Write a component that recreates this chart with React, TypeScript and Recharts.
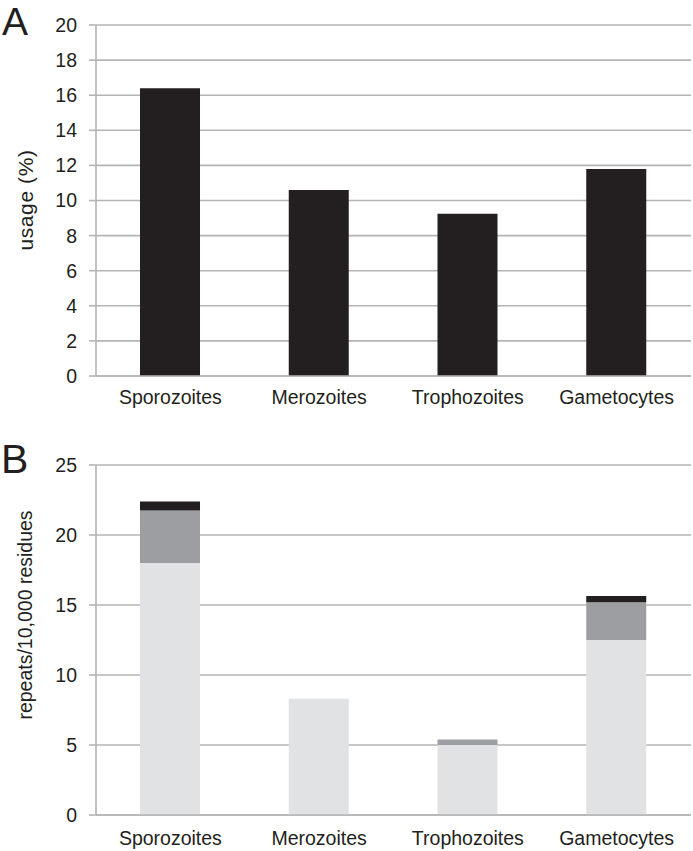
import React from 'react';
import { BarChart, Bar, XAxis, YAxis, CartesianGrid } from 'recharts';

const stages = ['Sporozoites', 'Merozoites', 'Trophozoites', 'Gametocytes'];
const usagePct = [16.4, 10.6, 9.25, 11.8];
const repeatsLight = [18.0, 8.3, 5.0, 12.5];
const repeatsGray = [3.75, 0, 0.4, 2.7];
const repeatsBlack = [0.65, 0, 0, 0.45];
const ticksA = [0, 2, 4, 6, 8, 10, 12, 14, 16, 18, 20];
const ticksB = [0, 5, 10, 15, 20, 25];

const dataA = stages.map((s, i) => ({ stage: s, usage: usagePct[i] }));
const dataB = stages.map((s, i) => ({
  stage: s,
  light: repeatsLight[i],
  gray: repeatsGray[i],
  black: repeatsBlack[i],
}));

const FONT = '"Liberation Sans", Arial, Helvetica, sans-serif';
const GRID = '#b4b4b4';
const tickStyle = { fontSize: 19.5, fill: '#231f20', fontFamily: FONT };

export default function App() {
  return (
    <div style={{ position: 'absolute', left: 0, top: 0, width: 693, height: 851, background: '#fff', fontFamily: FONT }}>
      <div style={{ position: 'absolute', left: 0, top: 0 }}>
        <BarChart width={693} height={420} data={dataA} margin={{ top: 25, right: 2, left: 0, bottom: 14 }}>
          <CartesianGrid vertical={false} stroke={GRID} strokeWidth={1.6} />
          <XAxis
            dataKey="stage"
            height={30}
            tickLine={false}
            axisLine={{ stroke: GRID, strokeWidth: 1.6 }}
            tickSize={7}
            tickMargin={7}
            tick={tickStyle}
            interval={0}
          />
          <YAxis
            width={96}
            domain={[0, 20]}
            ticks={ticksA}
            interval={0}
            tickSize={7}
            tickMargin={12}
            tick={tickStyle}
            tickLine={{ stroke: GRID, strokeWidth: 1.6 }}
            axisLine={{ stroke: GRID, strokeWidth: 1.6 }}
          />
          <Bar dataKey="usage" fill="#231f20" barSize={60} isAnimationActive={false} />
        </BarChart>
      </div>
      <div style={{ position: 'absolute', left: 0, top: 430 }}>
        <BarChart width={693} height={421} data={dataB} margin={{ top: 35, right: 2, left: 0, bottom: 6 }}>
          <CartesianGrid vertical={false} stroke={GRID} strokeWidth={1.6} />
          <XAxis
            dataKey="stage"
            height={30}
            tickLine={false}
            axisLine={{ stroke: GRID, strokeWidth: 1.6 }}
            tickSize={7}
            tickMargin={9}
            tick={tickStyle}
            interval={0}
          />
          <YAxis
            width={96}
            domain={[0, 25]}
            ticks={ticksB}
            interval={0}
            tickSize={7}
            tickMargin={12}
            tick={tickStyle}
            tickLine={{ stroke: GRID, strokeWidth: 1.6 }}
            axisLine={{ stroke: GRID, strokeWidth: 1.6 }}
          />
          <Bar dataKey="light" stackId="r" fill="#e1e2e3" barSize={60} isAnimationActive={false} />
          <Bar dataKey="gray" stackId="r" fill="#9d9ea1" barSize={60} isAnimationActive={false} />
          <Bar dataKey="black" stackId="r" fill="#231f20" barSize={60} isAnimationActive={false} />
        </BarChart>
      </div>
      <svg width={693} height={851} style={{ position: 'absolute', left: 0, top: 0, pointerEvents: 'none' }}>
        <text x={2} y={35} fontSize={39} fill="#231f20" fontFamily={FONT}>A</text>
        <text x={1} y={473} fontSize={41} fill="#231f20" fontFamily={FONT}>B</text>
        <text
          transform="translate(25,200) rotate(-90)"
          textAnchor="middle"
          dominantBaseline="central"
          fontSize={21}
          letterSpacing={0.6}
          fill="#231f20"
          fontFamily={FONT}
        >
          usage (%)
        </text>
        <text
          transform="translate(25,615) rotate(-90)"
          textAnchor="middle"
          dominantBaseline="central"
          fontSize={19.5}
          fill="#231f20"
          fontFamily={FONT}
        >
          repeats/10,000 residues
        </text>
      </svg>
    </div>
  );
}
